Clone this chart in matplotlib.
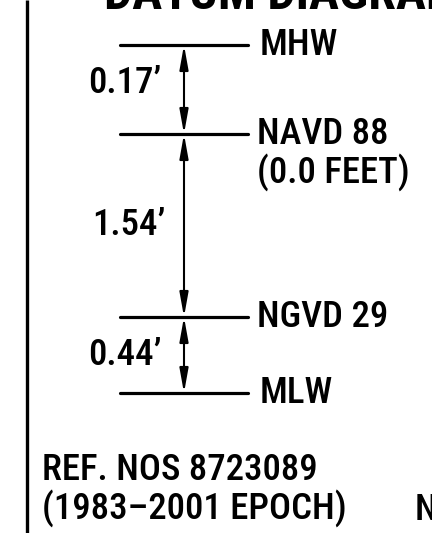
import matplotlib
matplotlib.use('Agg')
import matplotlib.pyplot as plt
from matplotlib import font_manager

# datum levels, top to bottom
datums = ['MHW', 'NAVD 88', 'NGVD 29', 'MLW']
datum_notes = ['', '(0.0 FEET)', '', '']
diffs = [0.17, 1.54, 0.44]
title = 'DATUM DIAGRAM'
ref_lines = ['REF. NOS 8723089', '(1983\u20132001 EPOCH)']

# pick a narrow font if there is one
names = set(f.name for f in font_manager.fontManager.ttflist)
fam = 'DejaVu Sans'
for cand in ['Roboto Condensed', 'Liberation Sans Narrow', 'Open Sans Condensed']:
    if cand in names:
        fam = cand
        break

fig = plt.figure(figsize=(4.32, 5.33), dpi=100)
ax = fig.add_axes([0, 0, 1, 1])
ax.set_xlim(0, 432)
ax.set_ylim(533, 0)
ax.axis('off')

fs = 26.5
kw = dict(family=fam, fontsize=fs, fontweight='medium', stretch='condensed', color='black')

# diagram layout (not to scale)
level_y = [45, 134, 317, 393]
x0, x1, xa = 120, 248, 184

# left frame line
ax.plot([27, 27], [0, 533], color='black', lw=2.4, solid_capstyle='butt')

# title, cut off at the top
ax.text(104, 9, title, va='baseline', ha='left', family=fam, fontsize=36,
        fontweight='bold', stretch='condensed')

for name, note, y in zip(datums, datum_notes, level_y):
    ax.plot([x0, x1], [y, y], color='black', lw=2.3, solid_capstyle='round')
    lx = 257 if note or ' ' in name else 260
    ax.text(lx, y, name, va='center', ha='left', **kw)
    if note:
        ax.text(lx, y + 38, note, va='center', ha='left', **kw)

diff_x = [88, 92, 88]
diff_y = [83, 225, 355]
for i, d in enumerate(diffs):
    ax.annotate('', xy=(xa, level_y[i]), xytext=(xa, level_y[i + 1]),
                arrowprops=dict(arrowstyle='<|-|>,head_length=1.45,head_width=0.26',
                                mutation_scale=10, lw=1.5, color='black',
                                shrinkA=0, shrinkB=0))
    ax.text(diff_x[i], diff_y[i], f'{d:.2f}\u2019', va='center', ha='left', **kw)

ax.text(42, 470, ref_lines[0], va='center', ha='left', **kw)
ax.text(42, 508, ref_lines[1], va='center', ha='left', **kw)
ax.text(415, 510, 'N', va='center', ha='left', **kw)

fig.savefig('out.png', dpi=100)
